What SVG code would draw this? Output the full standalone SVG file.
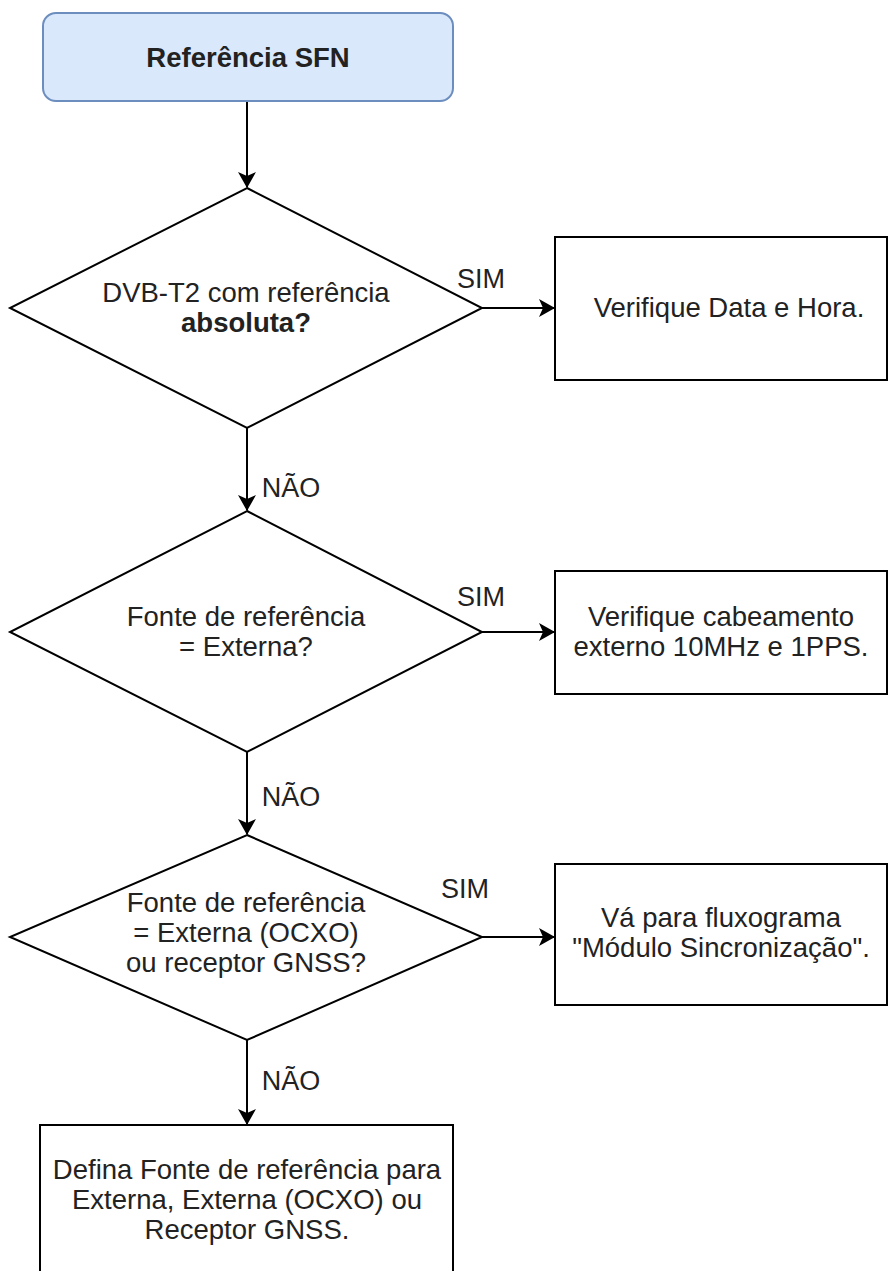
<svg xmlns="http://www.w3.org/2000/svg" width="889" height="1271" viewBox="0 0 889 1271">
<style>
text{font-family:"Liberation Sans",Arial,Helvetica,sans-serif;font-size:27.5px;fill:#222;text-anchor:middle}
.b{font-weight:bold}
.shape{fill:#fff;stroke:#000;stroke-width:2}
.edge{fill:none;stroke:#000;stroke-width:2}
.lbl{font-size:27px}
</style>
<defs>
<marker id="arr" markerUnits="userSpaceOnUse" viewBox="0 0 16 18" refX="15" refY="9" markerWidth="16" markerHeight="18" orient="auto">
<path d="M0,0 L16,9 L0,18 L4,9 Z" fill="#000"/>
</marker>
</defs>
<rect width="889" height="1271" fill="#fff"/>
<g id="connectors">
<path class="edge" d="M247,101 L247,187" marker-end="url(#arr)"/>
<path class="edge" d="M482,308 L554,308" marker-end="url(#arr)"/>
<text class="lbl" x="481" y="288">SIM</text>
<path class="edge" d="M247,428 L247,510" marker-end="url(#arr)"/>
<text class="lbl" x="291" y="497">NÃO</text>
<path class="edge" d="M482,632 L554,632" marker-end="url(#arr)"/>
<text class="lbl" x="481" y="606">SIM</text>
<path class="edge" d="M247,752 L247,834" marker-end="url(#arr)"/>
<text class="lbl" x="291" y="806">NÃO</text>
<path class="edge" d="M482,937 L554,937" marker-end="url(#arr)"/>
<text class="lbl" x="465" y="898">SIM</text>
<path class="edge" d="M247,1040 L247,1124" marker-end="url(#arr)"/>
<text class="lbl" x="291" y="1090">NÃO</text>
</g>
<g id="start">
<rect x="43" y="13" width="410" height="88" rx="13" fill="#dae8fc" stroke="#6c8ebf" stroke-width="2"/>
<text class="b" x="248" y="67">Referência SFN</text>
</g>
<g id="decision1">
<polygon class="shape" points="247,188 482,308 247,428 10,308"/>
<text x="246" y="302">DVB-T2 com referência</text>
<text class="b" x="246" y="332">absoluta?</text>
</g>
<g id="box1">
<rect class="shape" x="555" y="237" width="332" height="143"/>
<text x="729" y="317">Verifique Data e Hora.</text>
</g>
<g id="decision2">
<polygon class="shape" points="247,511 482,632 247,752 10,632"/>
<text x="246" y="626">Fonte de referência</text>
<text x="246" y="656">= Externa?</text>
</g>
<g id="box2">
<rect class="shape" x="555" y="571" width="332" height="123"/>
<text x="721" y="626">Verifique cabeamento</text>
<text x="721" y="656">externo 10MHz e 1PPS.</text>
</g>
<g id="decision3">
<polygon class="shape" points="247,835 482,937 247,1040 10,937"/>
<text x="246" y="912">Fonte de referência</text>
<text x="246" y="942">= Externa (OCXO)</text>
<text x="246" y="972">ou receptor GNSS?</text>
</g>
<g id="box3">
<rect class="shape" x="555" y="864" width="332" height="141"/>
<text x="721" y="927">Vá para fluxograma</text>
<text x="721" y="957">"Módulo Sincronização".</text>
</g>
<g id="box4">
<rect class="shape" x="40" y="1125" width="413" height="160"/>
<text x="247" y="1179">Defina Fonte de referência para</text>
<text x="247" y="1209">Externa, Externa (OCXO) ou</text>
<text x="247" y="1239">Receptor GNSS.</text>
</g>
</svg>
